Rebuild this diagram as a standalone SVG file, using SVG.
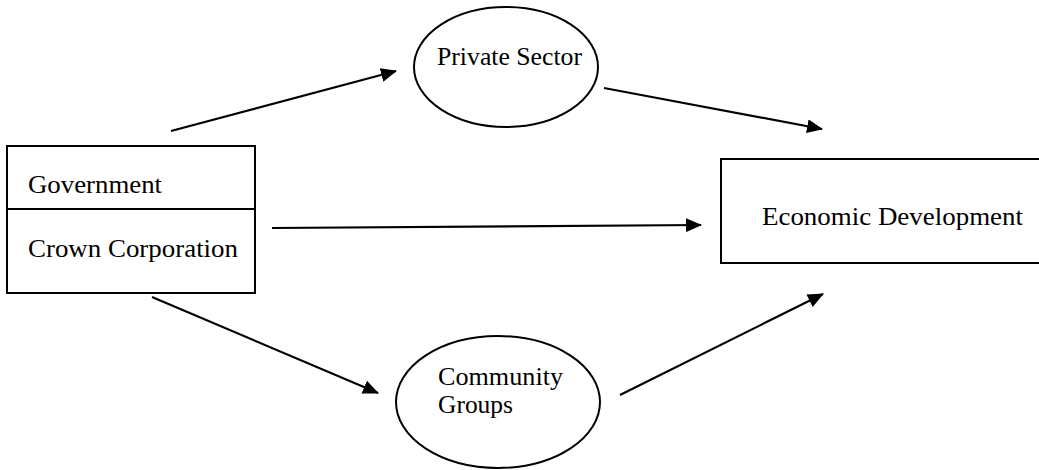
<svg xmlns="http://www.w3.org/2000/svg" width="1039" height="470" viewBox="0 0 1039 470">
<style>
.box{fill:#fff;stroke:#000;stroke-width:2}
.t{font-family:"Liberation Serif","Times New Roman",serif;font-size:25px;fill:#000}
.c{stroke:#000;stroke-width:2.2;fill:none}
</style>
<defs>
<marker id="ah" markerWidth="16" markerHeight="14" refX="15" refY="7" orient="auto" markerUnits="userSpaceOnUse">
<path d="M0,0 L16,7 L0,14 Z" fill="#000"/>
</marker>
</defs>
<rect width="1039" height="470" fill="#fff"/>
<g id="connectors">
<line class="c" x1="171" y1="131" x2="396" y2="71" marker-end="url(#ah)"/>
<line class="c" x1="604" y1="88" x2="822" y2="129" marker-end="url(#ah)"/>
<line class="c" x1="272" y1="228" x2="701" y2="225" marker-end="url(#ah)"/>
<line class="c" x1="152" y1="297" x2="378" y2="393" marker-end="url(#ah)"/>
<line class="c" x1="620" y1="395" x2="823" y2="294" marker-end="url(#ah)"/>
</g>
<g id="gov">
<rect class="box" x="7" y="146" width="248" height="147"/>
<line x1="7" y1="209" x2="255" y2="209" stroke="#000" stroke-width="2"/>
<text class="t" x="28" y="193" textLength="134" lengthAdjust="spacingAndGlyphs">Government</text>
<text class="t" x="28" y="257" textLength="210" lengthAdjust="spacingAndGlyphs">Crown Corporation</text>
</g>
<g id="private">
<ellipse class="box" cx="506" cy="67" rx="92" ry="60"/>
<text class="t" x="437" y="65" textLength="145" lengthAdjust="spacingAndGlyphs">Private Sector</text>
</g>
<g id="community">
<ellipse class="box" cx="498" cy="402" rx="102" ry="66"/>
<text class="t" x="438" y="385" textLength="125" lengthAdjust="spacingAndGlyphs">Community</text>
<text class="t" x="438" y="413" textLength="75" lengthAdjust="spacingAndGlyphs">Groups</text>
</g>
<g id="econ">
<rect class="box" x="721" y="159" width="330" height="104"/>
<text class="t" x="762" y="225" textLength="261" lengthAdjust="spacingAndGlyphs">Economic Development</text>
</g>
</svg>
